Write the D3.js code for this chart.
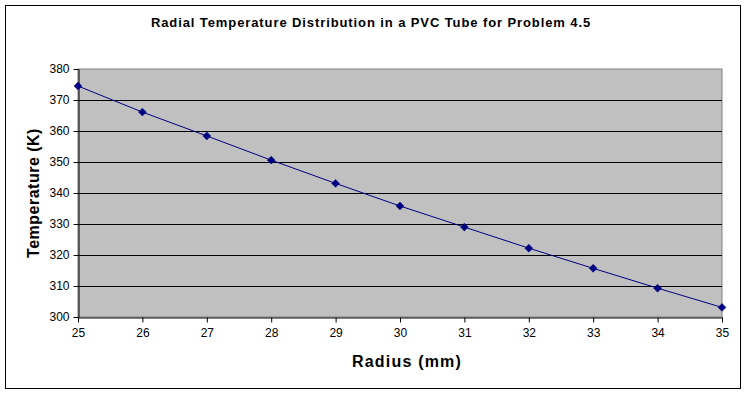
<!DOCTYPE html>
<html>
<head>
<meta charset="utf-8">
<script src="https://cdn.jsdelivr.net/npm/d3@7"></script>
<style>
  body { margin: 0; background: #fff; }
  text { font-family: "Liberation Sans", Arial, sans-serif; }
</style>
</head>
<body>
<div id="chart"></div>
<script>
// radius in mm, temperature in K
var radius = [25, 26, 27, 28, 29, 30, 31, 32, 33, 34, 35];
var temperature = [374.5, 366.1, 358.4, 350.6, 343.1, 335.8, 329.0, 322.2, 315.7, 309.3, 303.1];
var yTicks = [300, 310, 320, 330, 340, 350, 360, 370, 380];

var width = 746, height = 395;
var plot = {left: 78, right: 722, top: 69, bottom: 317};

var svg = d3.select("#chart").append("svg")
    .attr("width", width)
    .attr("height", height);

// outer chart border
svg.append("rect")
    .attr("x", 5.5).attr("y", 5.5)
    .attr("width", 735).attr("height", 383)
    .attr("fill", "#fff")
    .attr("stroke", "#000");

var x = d3.scaleLinear().domain([25, 35]).range([plot.left, plot.right]);
var y = d3.scaleLinear().domain([300, 380]).range([plot.bottom, plot.top]);

svg.append("rect")
    .attr("x", plot.left).attr("y", plot.top)
    .attr("width", plot.right - plot.left).attr("height", plot.bottom - plot.top)
    .attr("fill", "#c0c0c0")
    .attr("stroke", "#808080");

// horizontal grid
svg.append("g")
    .selectAll("line")
    .data(yTicks.slice(1, -1))
    .enter().append("line")
    .attr("x1", plot.left).attr("x2", plot.right)
    .attr("y1", function(d) { return Math.round(y(d)) + 0.5; })
    .attr("y2", function(d) { return Math.round(y(d)) + 0.5; })
    .attr("stroke", "#000");

var xAxis = svg.append("g")
    .attr("transform", "translate(0," + (plot.bottom + 0.5) + ")")
    .call(d3.axisBottom(x).tickValues(radius).tickSize(5).tickSizeOuter(0).tickPadding(6));

var yAxis = svg.append("g")
    .attr("transform", "translate(" + (plot.left + 0.5) + ",0)")
    .call(d3.axisLeft(y).tickValues(yTicks).tickSize(5).tickSizeOuter(0).tickPadding(4));

[xAxis, yAxis].forEach(function(a) {
    a.select(".domain").attr("stroke", "#000");
    a.selectAll(".tick line").attr("stroke", "#000");
    a.selectAll("text")
        .attr("fill", "#000")
        .style("font-size", "12px")
        .style("font-family", "'Liberation Sans', Arial, sans-serif");
});

var line = d3.line()
    .x(function(d, i) { return x(radius[i]); })
    .y(function(d) { return y(d); });

svg.append("path")
    .datum(temperature)
    .attr("d", line)
    .attr("fill", "none")
    .attr("stroke", "#000080")
    .attr("stroke-width", 1);

svg.append("g")
    .selectAll("path")
    .data(temperature)
    .enter().append("path")
    .attr("transform", function(d, i) { return "translate(" + x(radius[i]) + "," + y(d) + ")"; })
    .attr("d", d3.symbol().type(d3.symbolDiamond2).size(40))
    .attr("fill", "#000080")
    .attr("stroke", "#000080")
    .attr("stroke-width", 0.5);

svg.append("text")
    .attr("x", 371).attr("y", 27)
    .attr("text-anchor", "middle")
    .style("font-size", "13px")
    .style("font-weight", "bold")
    .style("letter-spacing", "0.9px")
    .text("Radial Temperature Distribution in a PVC Tube for Problem 4.5");

svg.append("text")
    .attr("x", 407).attr("y", 367)
    .attr("text-anchor", "middle")
    .style("font-size", "16px")
    .style("font-weight", "bold")
    .style("letter-spacing", "1.2px")
    .text("Radius (mm)");

svg.append("text")
    .attr("transform", "translate(39," + ((plot.top + plot.bottom) / 2) + ") rotate(-90)")
    .attr("text-anchor", "middle")
    .style("font-size", "16px")
    .style("font-weight", "bold")
    .style("letter-spacing", "0.5px")
    .text("Temperature (K)");
</script>
</body>
</html>
